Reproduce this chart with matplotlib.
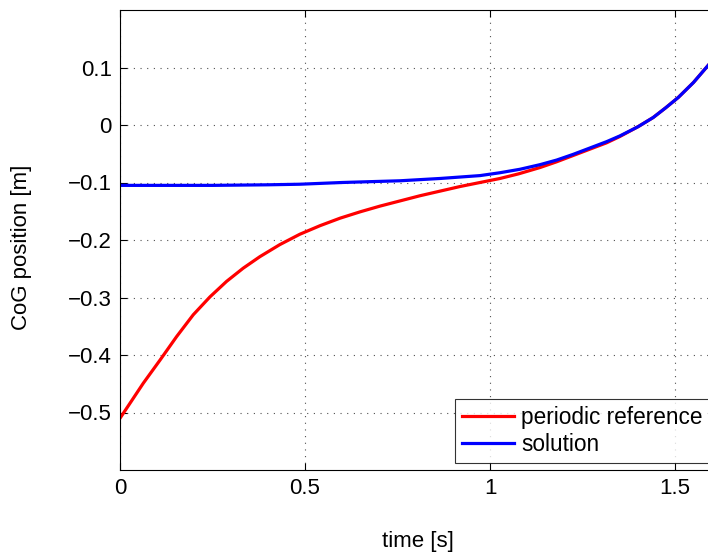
import matplotlib
matplotlib.use("Agg")
import matplotlib.pyplot as plt

plt.rcParams['font.family'] = ['Liberation Sans', 'DejaVu Sans']

# time samples [s] and CoG positions [m]
t_ref = [0.0, 0.03, 0.063, 0.108, 0.153, 0.198, 0.243, 0.288, 0.333, 0.378, 0.432,
         0.486, 0.541, 0.595, 0.649, 0.703, 0.757, 0.811, 0.865, 0.919, 0.973, 1.027,
         1.077, 1.135, 1.180, 1.225, 1.270, 1.315, 1.351, 1.400, 1.441, 1.475, 1.509,
         1.550, 1.590, 1.650]
ref = [-0.510, -0.481, -0.449, -0.409, -0.368, -0.330, -0.299, -0.272, -0.249, -0.229,
       -0.208, -0.190, -0.175, -0.162, -0.151, -0.141, -0.132, -0.123, -0.115, -0.107,
       -0.100, -0.093, -0.085, -0.074, -0.064, -0.053, -0.042, -0.031, -0.020, -0.003,
       0.013, 0.030, 0.048, 0.074, 0.104, 0.150]

t_sol = [0.0, 0.1, 0.25, 0.4, 0.486, 0.6, 0.757, 0.865, 0.973, 1.027, 1.081, 1.135,
         1.180, 1.225, 1.270, 1.315, 1.351, 1.400, 1.441, 1.475, 1.509, 1.550, 1.590, 1.650]
sol = [-0.105, -0.105, -0.105, -0.104, -0.103, -0.100, -0.097, -0.093, -0.088, -0.083,
       -0.077, -0.069, -0.061, -0.051, -0.040, -0.029, -0.019, -0.003, 0.013, 0.030,
       0.048, 0.074, 0.104, 0.150]

xticks = [0, 0.5, 1, 1.5]
xtick_labels = ['0', '0.5', '1', '1.5']
yticks = [-0.5, -0.4, -0.3, -0.2, -0.1, 0, 0.1]
ytick_labels = ['\u22120.5', '\u22120.4', '\u22120.3', '\u22120.2', '\u22120.1', '0', '0.1']

fig = plt.figure(figsize=(7.08, 5.56), dpi=100)
ax = fig.add_axes([120/708, 86/556, 740/708, 460/556])

ax.plot(t_ref, ref, color='#ff0000', lw=2.3, label='periodic reference')
ax.plot(t_sol, sol, color='#0000ff', lw=2.3, label='solution')

ax.set_xlim(0, 2)
ax.set_ylim(-0.6, 0.2)
ax.set_xticks(xticks)
ax.set_xticklabels(xtick_labels)
ax.set_yticks(yticks)
ax.set_yticklabels(ytick_labels)
ax.tick_params(direction='in', length=5, labelsize=16, pad=6, top=True, right=True)
ax.grid(True, linestyle=(0, (1, 5)), color='#505050', linewidth=0.8)
for s in ax.spines.values():
    s.set_linewidth(0.8)

fig.text(22/708, 1 - 247/556, 'CoG position [m]', rotation=90, ha='center', va='center', fontsize=16)
fig.text(418/708, 1 - 542/556, 'time [s]', ha='center', va='center', fontsize=16)

leg = ax.legend(loc='lower left', bbox_to_anchor=(455/708, 93/556), bbox_transform=fig.transFigure,
                fontsize=16.3, frameon=True, fancybox=False, borderpad=0.32, handlelength=2.3,
                handletextpad=0.3, labelspacing=0.15, borderaxespad=0)
leg.get_frame().set_edgecolor('black')
leg.get_frame().set_linewidth(0.8)

fig.savefig('out.png', dpi=100)
